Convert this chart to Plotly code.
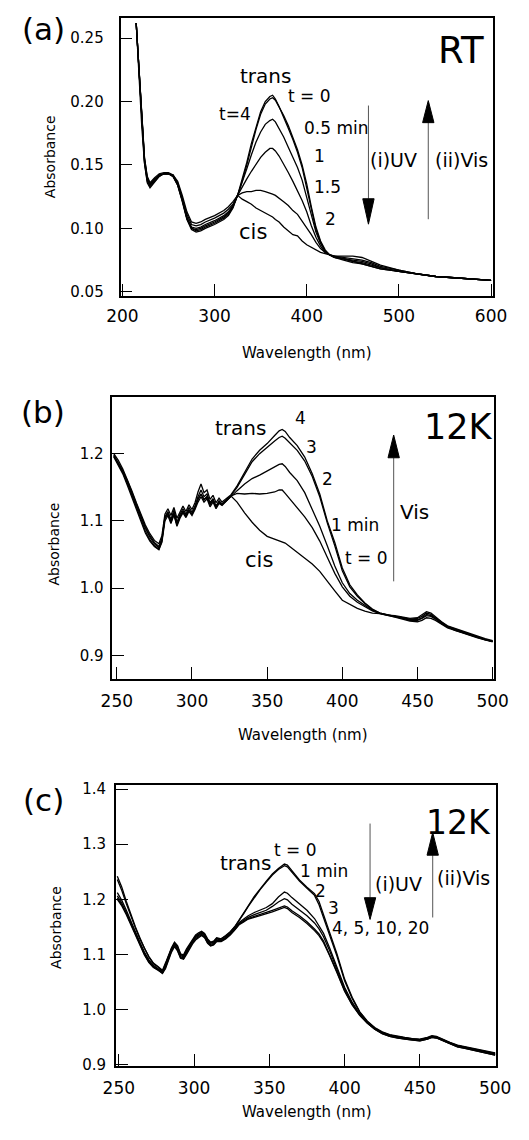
import plotly.graph_objects as go

W, H = 529, 1140
FONT = "DejaVu Sans"

# ---------------- Panel (a) data : RT ----------------
wl_a = [215, 218, 221, 224, 227, 230, 235, 240, 245, 250, 255, 260, 265, 270, 275, 280, 285, 290,
        300, 310, 315, 320, 325, 330, 335, 340, 345, 350, 355, 360, 363, 366, 370,
        375, 380, 385, 390, 395, 400, 405, 410, 415, 420, 425, 430, 440, 450, 460, 470, 480,
        500, 520, 540, 560, 580, 600]
a_t0 = [0.262, 0.225, 0.185, 0.155, 0.140, 0.135, 0.139, 0.142, 0.143, 0.143, 0.141, 0.134, 0.121, 0.107, 0.099, 0.097, 0.098, 0.100,
        0.103, 0.107, 0.110, 0.116, 0.126, 0.138, 0.152, 0.167, 0.180, 0.192, 0.200, 0.204, 0.205, 0.202, 0.196,
        0.188, 0.179, 0.170, 0.160, 0.148, 0.132, 0.114, 0.099, 0.089, 0.082, 0.079, 0.077, 0.075, 0.073, 0.072, 0.070, 0.068,
        0.066, 0.064, 0.062, 0.061, 0.060, 0.059]
a_t4 = [0.262, 0.226, 0.186, 0.156, 0.141, 0.136, 0.140, 0.143, 0.144, 0.144, 0.142, 0.135, 0.122, 0.108, 0.100, 0.098, 0.099, 0.101,
        0.104, 0.108, 0.111, 0.117, 0.126, 0.137, 0.150, 0.165, 0.178, 0.190, 0.198, 0.202, 0.203, 0.201, 0.196,
        0.189, 0.181, 0.172, 0.162, 0.150, 0.135, 0.117, 0.101, 0.090, 0.083, 0.079, 0.077, 0.076, 0.074, 0.072, 0.070, 0.068,
        0.066, 0.064, 0.062, 0.061, 0.060, 0.059]
a_t05 = [0.262, 0.224, 0.184, 0.154, 0.139, 0.135, 0.139, 0.142, 0.143, 0.143, 0.141, 0.134, 0.122, 0.108, 0.100, 0.099, 0.100, 0.102,
         0.105, 0.109, 0.112, 0.117, 0.126, 0.136, 0.147, 0.158, 0.168, 0.176, 0.182, 0.185, 0.186, 0.184, 0.179,
         0.172, 0.164, 0.156, 0.148, 0.138, 0.125, 0.110, 0.097, 0.088, 0.082, 0.079, 0.077, 0.076, 0.074, 0.073, 0.071, 0.069,
         0.066, 0.064, 0.062, 0.061, 0.060, 0.059]
a_t1 = [0.262, 0.223, 0.183, 0.153, 0.138, 0.134, 0.138, 0.142, 0.143, 0.143, 0.141, 0.135, 0.123, 0.109, 0.101, 0.100, 0.101, 0.103,
        0.106, 0.110, 0.113, 0.118, 0.126, 0.133, 0.139, 0.145, 0.151, 0.156, 0.160, 0.163, 0.163, 0.161, 0.157,
        0.151, 0.144, 0.137, 0.130, 0.122, 0.113, 0.102, 0.093, 0.086, 0.081, 0.079, 0.078, 0.076, 0.075, 0.074, 0.072, 0.069,
        0.066, 0.064, 0.062, 0.061, 0.060, 0.059]
a_t15 = [0.262, 0.222, 0.182, 0.152, 0.137, 0.133, 0.137, 0.141, 0.143, 0.143, 0.142, 0.136, 0.124, 0.111, 0.103, 0.102, 0.103, 0.105,
         0.108, 0.112, 0.115, 0.119, 0.126, 0.128, 0.129, 0.129, 0.130, 0.130, 0.129, 0.128, 0.127, 0.126, 0.124,
         0.121, 0.118, 0.114, 0.111, 0.106, 0.100, 0.095, 0.089, 0.084, 0.081, 0.079, 0.078, 0.077, 0.076, 0.075, 0.073, 0.070,
         0.067, 0.064, 0.062, 0.061, 0.060, 0.059]
a_t2 = [0.262, 0.221, 0.181, 0.151, 0.136, 0.132, 0.137, 0.141, 0.143, 0.143, 0.142, 0.137, 0.126, 0.113, 0.105, 0.104, 0.105, 0.107,
        0.110, 0.114, 0.117, 0.121, 0.126, 0.123, 0.121, 0.119, 0.116, 0.114, 0.112, 0.110, 0.109, 0.107, 0.105,
        0.101, 0.098, 0.095, 0.094, 0.090, 0.087, 0.085, 0.083, 0.081, 0.080, 0.079, 0.078, 0.078, 0.078, 0.077, 0.074, 0.071,
        0.067, 0.064, 0.062, 0.061, 0.060, 0.059]
series_a = [a_t0, a_t4, a_t05, a_t1, a_t15, a_t2]

# ---------------- Panel (b) data : 12K, Vis ----------------
wl_b = [248, 251, 254, 257, 260, 263, 266, 269, 272, 275, 278,
        280, 282, 284, 286, 288, 290, 292, 294, 296, 298, 300, 302, 304, 306, 308, 310, 312, 314, 316, 318, 320,
        323, 326,
        330, 335, 340, 345, 350, 355, 358, 360, 362, 365,
        370, 375, 380, 385, 390, 395, 400, 405, 410, 415, 420, 425,
        430, 435, 440, 445, 450, 453, 456, 459, 462, 466, 470, 475, 480, 485, 490, 495, 500]
b_t4 = [1.200, 1.190, 1.177, 1.162, 1.145, 1.127, 1.110, 1.094, 1.081, 1.071, 1.066,
        1.078, 1.110, 1.118, 1.108, 1.120, 1.104, 1.114, 1.122, 1.114, 1.124, 1.117, 1.127, 1.143, 1.155, 1.142, 1.146, 1.132, 1.138, 1.127, 1.134, 1.128,
        1.133, 1.139,
        1.152, 1.172, 1.192, 1.205, 1.215, 1.227, 1.234, 1.236, 1.233, 1.224,
        1.212, 1.195, 1.170, 1.140, 1.100, 1.068, 1.030, 1.005, 0.990, 0.978, 0.969, 0.963,
        0.960, 0.959, 0.957, 0.955, 0.956, 0.960, 0.965, 0.963, 0.957, 0.950, 0.944, 0.940, 0.936, 0.932, 0.928, 0.925, 0.922]
b_t3 = [1.198, 1.187, 1.174, 1.158, 1.141, 1.122, 1.105, 1.089, 1.076, 1.066, 1.060,
        1.072, 1.106, 1.114, 1.102, 1.116, 1.098, 1.110, 1.118, 1.110, 1.120, 1.113, 1.122, 1.136, 1.146, 1.136, 1.140, 1.127, 1.133, 1.122, 1.130, 1.125,
        1.131, 1.138,
        1.150, 1.169, 1.188, 1.200, 1.210, 1.219, 1.224, 1.226, 1.223, 1.216,
        1.205, 1.189, 1.166, 1.136, 1.097, 1.063, 1.026, 1.002, 0.988, 0.977, 0.968, 0.963,
        0.960, 0.958, 0.956, 0.954, 0.955, 0.958, 0.963, 0.961, 0.956, 0.949, 0.943, 0.939, 0.935, 0.931, 0.927, 0.924, 0.921]
b_t2 = [1.197, 1.185, 1.172, 1.156, 1.138, 1.119, 1.101, 1.085, 1.072, 1.063, 1.058,
        1.070, 1.104, 1.112, 1.100, 1.112, 1.095, 1.107, 1.115, 1.107, 1.117, 1.110, 1.119, 1.132, 1.140, 1.131, 1.136, 1.124, 1.130, 1.120, 1.128, 1.124,
        1.130, 1.137,
        1.145, 1.155, 1.163, 1.168, 1.174, 1.180, 1.184, 1.185, 1.181, 1.172,
        1.160, 1.142, 1.118, 1.092, 1.063, 1.033, 1.008, 0.992, 0.982, 0.974, 0.967, 0.963,
        0.960, 0.958, 0.956, 0.953, 0.953, 0.956, 0.961, 0.959, 0.955, 0.948, 0.942, 0.938, 0.934, 0.930, 0.927, 0.924, 0.921]
b_t1 = [1.195, 1.183, 1.170, 1.153, 1.135, 1.116, 1.098, 1.082, 1.070, 1.062, 1.057,
        1.068, 1.100, 1.108, 1.096, 1.109, 1.092, 1.104, 1.112, 1.105, 1.114, 1.108, 1.117, 1.128, 1.136, 1.128, 1.133, 1.121, 1.128, 1.118, 1.126, 1.123,
        1.130, 1.137,
        1.141, 1.140, 1.141, 1.140, 1.141, 1.143, 1.146, 1.146, 1.141, 1.133,
        1.120, 1.106, 1.090, 1.070, 1.046, 1.022, 1.002, 0.988, 0.979, 0.972, 0.966, 0.962,
        0.960, 0.957, 0.955, 0.952, 0.952, 0.955, 0.959, 0.958, 0.954, 0.947, 0.942, 0.937, 0.934, 0.930, 0.926, 0.923, 0.921]
b_t0 = [1.196, 1.186, 1.174, 1.160, 1.143, 1.125, 1.108, 1.091, 1.078, 1.068, 1.062,
        1.074, 1.104, 1.110, 1.098, 1.110, 1.094, 1.106, 1.114, 1.108, 1.116, 1.110, 1.120, 1.132, 1.140, 1.132, 1.136, 1.125, 1.131, 1.121, 1.128, 1.125,
        1.131, 1.137,
        1.128, 1.112, 1.098, 1.086, 1.077, 1.073, 1.071, 1.069, 1.067, 1.062,
        1.053, 1.044, 1.036, 1.025, 1.010, 0.996, 0.982, 0.976, 0.970, 0.966, 0.963, 0.962,
        0.960, 0.957, 0.954, 0.951, 0.950, 0.952, 0.956, 0.955, 0.952, 0.946, 0.941, 0.937, 0.933, 0.929, 0.926, 0.923, 0.920]
series_b = [b_t4, b_t3, b_t2, b_t1, b_t0]

# ---------------- Panel (c) data : 12K, UV then Vis ----------------
wl_c = [249, 252, 255, 258, 261, 264, 267, 270, 273, 276, 279,
        281, 283, 285, 287, 289, 291, 293, 295, 297, 299, 301, 303, 305, 307, 309, 311, 313, 315,
        318, 321, 324, 327, 330, 333, 336,
        340, 344, 348, 352, 356, 360, 362, 365,
        370, 375, 380, 383, 386, 390, 395, 400,
        405, 410, 415, 420, 425, 430, 435, 440, 445, 450,
        455, 458, 461, 465, 470, 475, 480, 485, 490, 495, 500]
c_t0 = [1.242, 1.222, 1.196, 1.171, 1.150, 1.130, 1.111, 1.096, 1.084, 1.078, 1.071,
        1.084, 1.100, 1.112, 1.122, 1.116, 1.101, 1.099, 1.110, 1.119, 1.128, 1.135, 1.139, 1.142, 1.138, 1.128, 1.122, 1.124, 1.130,
        1.128, 1.134, 1.141, 1.150, 1.162, 1.175, 1.188,
        1.205, 1.220, 1.233, 1.246, 1.256, 1.264, 1.262, 1.252,
        1.235, 1.222, 1.210, 1.196, 1.172, 1.143, 1.100, 1.055,
        1.022, 0.996, 0.979, 0.967, 0.959, 0.954, 0.951, 0.949, 0.947, 0.946,
        0.949, 0.952, 0.951, 0.946, 0.940, 0.935, 0.932, 0.929, 0.926, 0.924, 0.921]
c_t1 = [1.236, 1.216, 1.192, 1.168, 1.148, 1.128, 1.110, 1.095, 1.083, 1.077, 1.069,
        1.082, 1.098, 1.110, 1.120, 1.114, 1.100, 1.097, 1.108, 1.117, 1.126, 1.133, 1.137, 1.140, 1.136, 1.126, 1.121, 1.123, 1.129,
        1.128, 1.133, 1.140, 1.150, 1.161, 1.174, 1.187,
        1.203, 1.218, 1.231, 1.244, 1.254, 1.261, 1.259, 1.249,
        1.233, 1.220, 1.207, 1.190, 1.166, 1.138, 1.096, 1.052,
        1.020, 0.995, 0.978, 0.966, 0.958, 0.953, 0.950, 0.948, 0.946, 0.945,
        0.948, 0.951, 0.950, 0.945, 0.939, 0.934, 0.931, 0.928, 0.925, 0.923, 0.920]
c_t2 = [1.212, 1.198, 1.180, 1.160, 1.140, 1.122, 1.104, 1.090, 1.080, 1.074, 1.068,
        1.080, 1.097, 1.110, 1.120, 1.112, 1.098, 1.095, 1.106, 1.116, 1.125, 1.132, 1.136, 1.140, 1.135, 1.125, 1.120, 1.122, 1.128,
        1.126, 1.131, 1.138, 1.148, 1.158, 1.164, 1.170,
        1.176, 1.180, 1.185, 1.192, 1.204, 1.213, 1.211, 1.203,
        1.192, 1.180, 1.165, 1.152, 1.138, 1.112, 1.075, 1.040,
        1.013, 0.992, 0.977, 0.966, 0.958, 0.953, 0.950, 0.948, 0.946, 0.945,
        0.948, 0.951, 0.950, 0.945, 0.939, 0.934, 0.931, 0.928, 0.925, 0.922, 0.919]
c_t3 = [1.206, 1.193, 1.176, 1.157, 1.138, 1.120, 1.102, 1.088, 1.078, 1.073, 1.066,
        1.078, 1.095, 1.108, 1.118, 1.110, 1.096, 1.093, 1.104, 1.114, 1.123, 1.130, 1.134, 1.138, 1.133, 1.123, 1.118, 1.120, 1.126,
        1.125, 1.130, 1.137, 1.146, 1.156, 1.162, 1.167,
        1.172, 1.176, 1.180, 1.187, 1.195, 1.201, 1.199, 1.191,
        1.181, 1.170, 1.157, 1.146, 1.132, 1.107, 1.072, 1.037,
        1.011, 0.991, 0.976, 0.965, 0.957, 0.952, 0.949, 0.947, 0.945, 0.944,
        0.947, 0.950, 0.949, 0.944, 0.938, 0.933, 0.930, 0.927, 0.924, 0.921, 0.918]
c_t4 = [1.202, 1.190, 1.174, 1.155, 1.136, 1.118, 1.100, 1.086, 1.077, 1.072, 1.065,
        1.076, 1.093, 1.106, 1.116, 1.108, 1.094, 1.092, 1.102, 1.112, 1.121, 1.128, 1.132, 1.136, 1.131, 1.121, 1.116, 1.118, 1.124,
        1.124, 1.129, 1.136, 1.145, 1.155, 1.160, 1.165,
        1.169, 1.172, 1.176, 1.180, 1.184, 1.188, 1.186, 1.179,
        1.170, 1.159, 1.146, 1.137, 1.124, 1.100, 1.068, 1.034,
        1.009, 0.990, 0.975, 0.964, 0.956, 0.951, 0.948, 0.946, 0.944, 0.943,
        0.946, 0.949, 0.948, 0.943, 0.937, 0.932, 0.929, 0.926, 0.923, 0.920, 0.917]
c_t20 = [1.200, 1.188, 1.172, 1.154, 1.135, 1.117, 1.099, 1.085, 1.076, 1.071, 1.066,
         1.074, 1.091, 1.104, 1.114, 1.106, 1.093, 1.091, 1.100, 1.110, 1.119, 1.126, 1.130, 1.134, 1.130, 1.120, 1.115, 1.117, 1.123,
         1.123, 1.128, 1.135, 1.144, 1.154, 1.159, 1.164,
         1.167, 1.170, 1.173, 1.177, 1.181, 1.185, 1.183, 1.176,
         1.167, 1.156, 1.143, 1.134, 1.121, 1.098, 1.066, 1.033,
         1.008, 0.989, 0.975, 0.964, 0.956, 0.951, 0.948, 0.946, 0.944, 0.943,
         0.946, 0.949, 0.948, 0.943, 0.937, 0.932, 0.929, 0.926, 0.923, 0.920, 0.917]
series_c = [c_t0, c_t1, c_t2, c_t3, c_t4, c_t20]

# tick values / labels
xt_a = [200, 300, 400, 500, 600]
yt_a = [0.05, 0.10, 0.15, 0.20, 0.25]
yl_a = ["0.05", "0.10", "0.15", "0.20", "0.25"]
xt_bc = [250, 300, 350, 400, 450, 500]
yt_b = [0.9, 1.0, 1.1, 1.2]
yl_b = ["0.9", "1.0", "1.1", "1.2"]
yt_c = [0.9, 1.0, 1.1, 1.2, 1.3, 1.4]
yl_c = ["0.9", "1.0", "1.1", "1.2", "1.3", "1.4"]


def X(px):
    return px / W


def Y(py):
    return 1 - py / H


fig = go.Figure()
line = dict(color="black", width=1.3)
for s in series_a:
    fig.add_trace(go.Scatter(x=wl_a, y=s, mode="lines", line=line, xaxis="x", yaxis="y", showlegend=False))
for s in series_b:
    fig.add_trace(go.Scatter(x=wl_b, y=s, mode="lines", line=line, xaxis="x2", yaxis="y2", showlegend=False))
for s in series_c:
    fig.add_trace(go.Scatter(x=wl_c, y=s, mode="lines", line=line, xaxis="x3", yaxis="y3", showlegend=False))

axcommon = dict(showline=True, mirror=True, linecolor="black", linewidth=1.6, showgrid=False,
                zeroline=False, ticks="inside", tickcolor="black", tickwidth=1.3,
                ticklen=12)

fig.update_layout(
    width=W, height=H, autosize=False,
    margin=dict(l=0, r=0, t=0, b=0),
    paper_bgcolor="white", plot_bgcolor="white",
    font=dict(family=FONT, color="black"),
    xaxis=dict(axcommon, domain=[X(112.7), X(506.7)], range=[198, 602], anchor="y",
               tickvals=xt_a, tickfont=dict(size=17), ticklabelstandoff=4),
    yaxis=dict(axcommon, domain=[Y(294), Y(13)], range=[0.0469, 0.266], anchor="x",
               tickvals=yt_a, ticktext=yl_a, tickfont=dict(size=15), ticklabelstandoff=12),
    xaxis2=dict(axcommon, domain=[X(104), X(508)], range=[247, 501], anchor="y2",
                tickvals=xt_bc, tickfont=dict(size=17), ticklabelstandoff=6),
    yaxis2=dict(axcommon, domain=[Y(681.7), Y(396.7)], range=[0.865, 1.284], anchor="x2",
                tickvals=yt_b, ticktext=yl_b, tickfont=dict(size=15), ticklabelstandoff=4),
    xaxis3=dict(axcommon, domain=[X(107.7), X(510)], range=[248, 500.6], anchor="y3",
                tickvals=xt_bc, tickfont=dict(size=17), ticklabelstandoff=6),
    yaxis3=dict(axcommon, domain=[Y(1073.3), Y(789.3)], range=[0.897, 1.407], anchor="x3",
                tickvals=yt_c, ticktext=yl_c, tickfont=dict(size=15), ticklabelstandoff=5),
)

anns = []


def txt(t, cx, cy, size, angle=0):
    anns.append(dict(text=t, x=X(cx), y=Y(cy), xref="paper", yref="paper", showarrow=False,
                     xanchor="center", yanchor="middle", textangle=angle,
                     font=dict(family=FONT, size=size, color="black")))


# panel letters and conditions
txt("(a)", 31, 24, 31)
txt("(b)", 31, 412, 31)
txt("(c)", 31, 804, 31)
txt("RT", 473, 46, 37)
txt("12K", 470, 427, 35)
txt("12K", 470, 827, 33)

# axis titles
txt("Absorbance", 38, 153, 14, -90)
txt("Absorbance", 42, 545, 14, -90)
txt("Absorbance", 45, 933, 14, -90)
txt("Wavelength (nm)", 310, 352, 15)
txt("Wavelength (nm)", 306, 738, 15)
txt("Wavelength (nm)", 310, 1120, 15)

# panel (a) labels
txt("trans", 266, 72, 20)
txt("t = 0", 313, 92, 17)
txt("t=4", 234, 110, 17)
txt("0.5 min", 341, 124, 17)
txt("1", 323, 153, 17)
txt("1.5", 332, 184, 17)
txt("2", 335, 216, 17)
txt("cis", 253, 230, 21)
txt("(i)UV", 402, 157, 19)
txt("(ii)Vis", 473, 157, 19)

# panel (b) labels
txt("trans", 240, 428, 20)
txt("4", 303, 418, 17)
txt("3", 315, 447, 17)
txt("2", 332, 479, 17)
txt("1 min", 361, 526, 17)
txt("t = 0", 373, 559, 17)
txt("cis", 259, 561, 21)
txt("Vis", 424, 513, 20)

# panel (c) labels
txt("trans", 245, 868, 20)
txt("t = 0", 298, 855, 17)
txt("1 min", 328, 876, 17)
txt("2", 324, 896, 17)
txt("3", 338, 913, 17)
txt("4, 5, 10, 20", 388, 934, 17)
txt("(i)UV", 407, 889, 19)
txt("(ii)Vis", 476, 883, 19)

fig.update_layout(annotations=anns)

shapes = []


def arrow(x, y_tail, y_tip, base, hw=6):
    shapes.append(dict(type="line", xref="paper", yref="paper", x0=X(x), x1=X(x), y0=Y(y_tail), y1=Y(base),
                       line=dict(color="#555555", width=1)))
    path = "M %f,%f L %f,%f L %f,%f Z" % (X(x - hw), Y(base), X(x + hw), Y(base), X(x), Y(y_tip))
    shapes.append(dict(type="path", xref="paper", yref="paper", path=path,
                       fillcolor="black", line=dict(color="black", width=1)))


arrow(375, 101.7, 221.7, 196)      # (a) UV down
arrow(438.3, 216.7, 96.7, 119)     # (a) Vis up
arrow(401.7, 583, 435, 458)        # (b) Vis up
arrow(376.7, 828, 925, 903)        # (c) UV down
arrow(443, 923, 837, 860)          # (c) Vis up
fig.update_layout(shapes=shapes)

fig.write_html("out.html")
